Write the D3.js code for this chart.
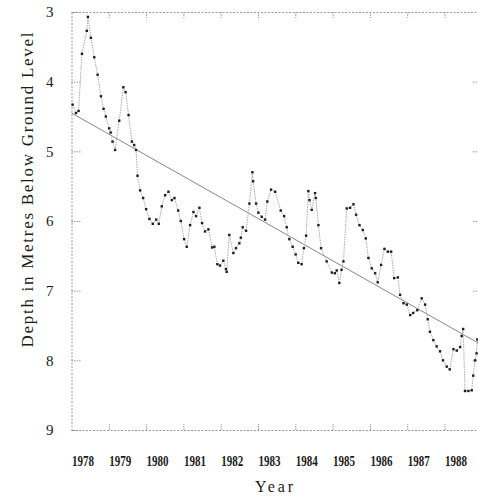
<!DOCTYPE html>
<html>
<head>
<meta charset="utf-8">
<script src="https://cdn.jsdelivr.net/npm/d3@7"></script>
<style>
  html, body { margin: 0; padding: 0; background: #fff; }
  svg { display: block; }
  text { font-family: "Liberation Serif", "DejaVu Serif", serif; fill: #1a1a1a; }
</style>
</head>
<body>
<svg id="chart" width="478" height="496"></svg>
<script>
// ---- data ----
const years = [
  1978.03, 1978.12, 1978.19, 1978.28, 1978.41, 1978.44, 1978.52, 1978.61, 1978.70, 1978.79,
  1978.86, 1978.92, 1979.01, 1979.05, 1979.10, 1979.17, 1979.28, 1979.39, 1979.45, 1979.53,
  1979.62, 1979.68, 1979.73, 1979.77, 1979.84, 1979.92, 1980.00, 1980.09, 1980.18, 1980.27,
  1980.34, 1980.42, 1980.51, 1980.60, 1980.69, 1980.76, 1980.86, 1980.93, 1981.02, 1981.09,
  1981.18, 1981.27, 1981.34, 1981.43, 1981.50, 1981.58, 1981.67, 1981.77, 1981.83, 1981.91,
  1981.98, 1982.07, 1982.14, 1982.16, 1982.23, 1982.34, 1982.41, 1982.50, 1982.54, 1982.59,
  1982.68, 1982.77, 1982.85, 1982.87, 1982.95, 1983.01, 1983.10, 1983.19, 1983.25, 1983.35,
  1983.46, 1983.61, 1983.70, 1983.77, 1983.84, 1983.93, 1984.01, 1984.08, 1984.17, 1984.23,
  1984.29, 1984.35, 1984.38, 1984.44, 1984.53, 1984.55, 1984.62, 1984.69, 1984.84, 1984.98,
  1985.06, 1985.11, 1985.18, 1985.24, 1985.29, 1985.38, 1985.47, 1985.56, 1985.63, 1985.72,
  1985.81, 1985.89, 1985.96, 1986.05, 1986.14, 1986.21, 1986.30, 1986.39, 1986.48, 1986.57,
  1986.65, 1986.75, 1986.81, 1986.90, 1986.99, 1987.08, 1987.16, 1987.27, 1987.39, 1987.48,
  1987.55, 1987.61, 1987.70, 1987.79, 1987.88, 1987.96, 1988.06, 1988.14, 1988.24, 1988.33,
  1988.42, 1988.46, 1988.50, 1988.55, 1988.64, 1988.73, 1988.77, 1988.82, 1988.86, 1988.88
];
const depths = [
  4.33, 4.45, 4.42, 3.60, 3.27, 3.07, 3.37, 3.65, 3.90, 4.21,
  4.39, 4.50, 4.67, 4.73, 4.86, 4.98, 4.56, 4.08, 4.15, 4.48,
  4.86, 4.91, 4.98, 5.35, 5.56, 5.67, 5.83, 5.97, 6.04, 5.98,
  6.04, 5.79, 5.63, 5.58, 5.70, 5.67, 5.85, 6.00, 6.26, 6.37,
  6.06, 5.87, 5.93, 5.81, 6.03, 6.15, 6.12, 6.38, 6.37, 6.62,
  6.64, 6.57, 6.69, 6.73, 6.20, 6.46, 6.39, 6.32, 6.24, 6.09,
  6.14, 5.75, 5.30, 5.43, 5.75, 5.88, 5.94, 5.98, 5.72, 5.55,
  5.58, 5.85, 5.93, 6.09, 6.26, 6.37, 6.48, 6.60, 6.62, 6.39,
  6.21, 5.57, 5.70, 5.84, 5.60, 5.67, 6.06, 6.39, 6.58, 6.74,
  6.75, 6.71, 6.89, 6.70, 6.58, 5.82, 5.81, 5.76, 5.91, 6.06,
  6.13, 6.25, 6.53, 6.68, 6.75, 6.88, 6.63, 6.40, 6.44, 6.44,
  6.82, 6.81, 7.06, 7.18, 7.20, 7.35, 7.32, 7.28, 7.11, 7.20,
  7.41, 7.59, 7.71, 7.80, 7.87, 8.00, 8.09, 8.13, 7.84, 7.86,
  7.81, 7.65, 7.55, 8.44, 8.44, 8.43, 8.22, 8.00, 7.90, 7.70
];
const trendYears = [1978, 1989];
const trendDepths = [4.45, 7.78];
const xTickYears = [1978, 1979, 1980, 1981, 1982, 1983, 1984, 1985, 1986, 1987, 1988];
const yTickValues = [3, 4, 5, 6, 7, 8, 9];
const xTitle = "Year";
const yTitle = "Depth in Metres Below Ground Level";

// ---- layout ----
const mLeft = 71.5, mRight = 481.8, mTop = 12, mBottom = 430;
const svg = d3.select("#chart");
const x = d3.scaleLinear().domain([1978, 1989]).range([mLeft, mRight]);
const y = d3.scaleLinear().domain([3, 9]).range([mTop, mBottom]);

const axisColor = "#9a9a9a";
function styleAxis(g) {
  g.select(".domain").attr("stroke", axisColor).attr("stroke-width", 1).attr("stroke-dasharray", "2,1.5");
  g.selectAll(".tick line").attr("stroke", axisColor).attr("stroke-width", 1).attr("stroke-dasharray", "1.5,1");
}

// left axis with labels
const gL = svg.append("g").attr("transform", `translate(${mLeft},0)`)
  .call(d3.axisLeft(y).tickValues(yTickValues).tickSizeInner(-9).tickSizeOuter(0).tickPadding(18).tickFormat(d3.format("d")));
styleAxis(gL);
gL.selectAll(".tick text").style("font-size", "15px").attr("fill", "#1a1a1a");

// right axis ticks only
const gR = svg.append("g").attr("transform", `translate(${mRight},0)`)
  .call(d3.axisRight(y).tickValues(yTickValues.slice(1, -1)).tickSizeInner(-9).tickSizeOuter(0).tickFormat(""));
styleAxis(gR);

// bottom axis
const gB = svg.append("g").attr("transform", `translate(0,${mBottom})`)
  .call(d3.axisBottom(x).tickValues(xTickYears).tickSizeInner(-6).tickSizeOuter(0).tickFormat(d3.format("d")));
styleAxis(gB);
gB.selectAll(".tick text")
  .attr("text-anchor", "start").attr("y", 36).attr("dy", 0).attr("x", 0)
  .style("font-size", "14px").style("font-weight", "bold")
  .attr("textLength", 22).attr("lengthAdjust", "spacingAndGlyphs")
  .attr("fill", "#1a1a1a");
gB.selectAll(".tick line").filter(d => d === 1978).remove();

// top axis ticks only
const gT = svg.append("g").attr("transform", `translate(0,${mTop})`)
  .call(d3.axisTop(x).tickValues(xTickYears.slice(1)).tickSizeInner(-6).tickSizeOuter(0).tickFormat(""));
styleAxis(gT);

// titles
svg.append("text")
  .attr("transform", `translate(33,190) rotate(-90)`)
  .attr("text-anchor", "middle")
  .style("font-size", "17px")
  .attr("textLength", 315).attr("lengthAdjust", "spacing")
  .text(yTitle);
svg.append("text")
  .attr("x", 274).attr("y", 492)
  .attr("text-anchor", "middle")
  .style("font-size", "16px")
  .attr("textLength", 38).attr("lengthAdjust", "spacing")
  .text(xTitle);

// trend line
const trend = trendYears.map((t, i) => [t, trendDepths[i]]);
svg.append("path")
  .datum(trend)
  .attr("fill", "none").attr("stroke", "#7a7a7a").attr("stroke-width", 0.9)
  .attr("d", d3.line().x(d => x(d[0])).y(d => y(d[1])));

// series
const pts = years.map((t, i) => [t, depths[i]]);
svg.append("path")
  .datum(pts)
  .attr("fill", "none").attr("stroke", "#a0a0a0").attr("stroke-width", 0.9)
  .attr("stroke-dasharray", "1.5,1")
  .attr("d", d3.line().x(d => x(d[0])).y(d => y(d[1])));
svg.append("g").selectAll("rect")
  .data(pts).join("rect")
  .attr("x", d => x(d[0]) - 1.2).attr("y", d => y(d[1]) - 1.2)
  .attr("width", 2.4).attr("height", 2.4)
  .attr("fill", "#1e1e1e");
</script>
</body>
</html>
